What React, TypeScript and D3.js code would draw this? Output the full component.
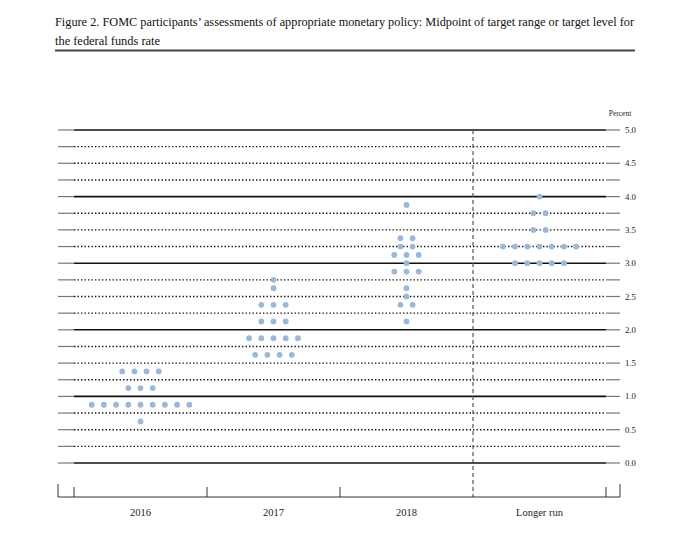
import React from "react";
import * as d3 from "d3";

const categories = ["2016", "2017", "2018", "Longer run"];
// [midpoint value, number of participants]
const dots2016: [number, number][] = [[0.625, 1], [0.875, 9], [1.125, 3], [1.375, 4]];
const dots2017: [number, number][] = [[1.625, 4], [1.875, 5], [2.125, 3], [2.375, 3], [2.625, 1], [2.75, 1]];
const dots2018: [number, number][] = [[2.125, 1], [2.375, 2], [2.5, 1], [2.625, 1], [2.875, 3], [3.0, 1], [3.125, 3], [3.25, 2], [3.375, 2], [3.875, 1]];
const dotsLonger: [number, number][] = [[3.0, 5], [3.25, 7], [3.5, 2], [3.75, 2], [4.0, 1]];
const seriesDots = [dots2016, dots2017, dots2018, dotsLonger];
const yTicks = [0, 0.5, 1, 1.5, 2, 2.5, 3, 3.5, 4, 4.5, 5];
const gridValues = d3.range(0, 5.0001, 0.25);

const W = 689;
const H = 555;

export default function App() {
  const x = d3.scaleLinear().domain([0, 4]).range([74, 606]);
  const y = d3.scaleLinear().domain([0, 5]).range([463, 130]);
  const xLeft = 58;
  const xRight = 620;
  const spacing = 12.2;
  const dotColor = "#9cb8d8";
  const font = "'Liberation Serif', 'DejaVu Serif', serif";
  const axisY = 497;

  const dots: { cx: number; cy: number; key: string }[] = [];
  seriesDots.forEach((arr, ci) => {
    arr.forEach(([v, n]) => {
      for (let i = 0; i < n; i++) {
        dots.push({
          cx: x(ci + 0.5) + (i - (n - 1) / 2) * spacing,
          cy: y(v),
          key: `${ci}-${v}-${i}`,
        });
      }
    });
  });

  return (
    <svg width={W} height={H} style={{ position: "absolute", left: 0, top: 0, background: "#fff" }}>
      <text x={55} y={26} fontFamily={font} fontSize={11.6} fill="#111" textLength={579} lengthAdjust="spacingAndGlyphs">
        Figure 2. FOMC participants’ assessments of appropriate monetary policy: Midpoint of target range or target level for
      </text>
      <text x={55} y={45} fontFamily={font} fontSize={11.6} fill="#111" textLength={105} lengthAdjust="spacingAndGlyphs">
        the federal funds rate
      </text>
      <line x1={55} x2={635} y1={50.5} y2={50.5} stroke="#444" strokeWidth={2} />

      <text x={620} y={116} fontFamily={font} fontSize={7.5} textAnchor="middle" fill="#222">
        Percent
      </text>

      {gridValues.map((v) => {
        const isInt = Math.abs(v - Math.round(v)) < 1e-9;
        const yy = y(v);
        return (
          <g key={v}>
            <line x1={xLeft} x2={x(0)} y1={yy} y2={yy} stroke="#777" strokeWidth={1.2} />
            <line x1={x(4)} x2={xRight} y1={yy} y2={yy} stroke="#777" strokeWidth={1.2} />
            {isInt ? (
              <line x1={x(0)} x2={x(4)} y1={yy} y2={yy} stroke="#111" strokeWidth={1.6} />
            ) : (
              <line x1={x(0)} x2={x(4)} y1={yy} y2={yy} stroke="#111" strokeWidth={1.4} strokeDasharray="1.4,2.1" />
            )}
          </g>
        );
      })}

      {yTicks.map((t) => (
        <text key={t} x={625} y={y(t) + 3} fontFamily={font} fontSize={8.8} fill="#222">
          {d3.format(".1f")(t)}
        </text>
      ))}

      <line x1={x(3)} x2={x(3)} y1={y(5)} y2={axisY} stroke="#555" strokeWidth={1.2} strokeDasharray="4,3" />

      {dots.map((d) => (
        <circle key={d.key} cx={d.cx} cy={d.cy} r={2.9} fill={dotColor} />
      ))}

      <line x1={xLeft} x2={xRight} y1={axisY} y2={axisY} stroke="#333" strokeWidth={1} />
      {[xLeft, xRight].map((t) => (
        <line key={t} x1={t} x2={t} y1={axisY - 13} y2={axisY} stroke="#333" strokeWidth={1} />
      ))}
      {[0, 1, 2, 4].map((t) => (
        <line key={t} x1={x(t)} x2={x(t)} y1={axisY - 10} y2={axisY} stroke="#333" strokeWidth={1} />
      ))}
      {categories.map((c, i) => (
        <text key={c} x={x(i + 0.5)} y={516} fontFamily={font} fontSize={10.5} textAnchor="middle" fill="#222">
          {c}
        </text>
      ))}
    </svg>
  );
}
